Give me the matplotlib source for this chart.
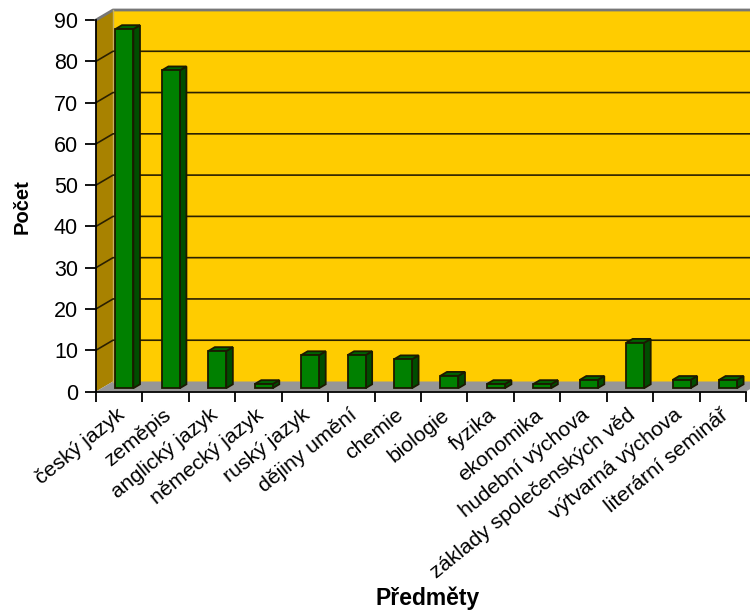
import numpy as np
import matplotlib
matplotlib.use("Agg")
import matplotlib.pyplot as plt
from matplotlib.patches import Polygon
from matplotlib.transforms import ScaledTranslation

plt.rcParams['font.family'] = ['Liberation Sans', 'DejaVu Sans']

subjects = ['český jazyk', 'zeměpis', 'anglický jazyk', 'německý jazyk', 'ruský jazyk',
            'dějiny umění', 'chemie', 'biologie', 'fyzika', 'ekonomika',
            'hudební výchova', 'základy společenských věd', 'výtvarná výchova', 'literární seminář']
counts = [87, 77, 9, 1, 8, 8, 7, 3, 1, 1, 2, 11, 2, 2]
yticks = [0, 10, 20, 30, 40, 50, 60, 70, 80, 90]

W, H = 750, 611
left, right, top, bottom = 96, 746, 20, 391.5

fig = plt.figure(figsize=(W / 100, H / 100), dpi=100)
ax = fig.add_axes([left / W, 1 - bottom / H, (right - left) / W, (bottom - top) / H])
ax.set_xlim(0, len(subjects))
ax.set_ylim(0, 90)

# depth offset of the fake 3d box, pixels converted to data units
ux = (right - left) / len(subjects)
uy = (bottom - top) / 90
dx = 17 / ux
dy = 10 / uy


def pt(x, v, d=0.0):
    return (x + d * dx, v + d * dy)


def poly(points, color, edge='#1a1a00', lw=1.3, z=1):
    ax.add_patch(Polygon(points, closed=True, facecolor=color, edgecolor=edge,
                         linewidth=lw, clip_on=False, zorder=z))


n = len(subjects)
# back wall, side wall, floor
poly([pt(0, 0, 1), pt(n, 0, 1), pt(n, 90, 1), pt(0, 90, 1)], '#FFCC00', edge='none')
poly([pt(0, 0), pt(0, 0, 1), pt(0, 90, 1), pt(0, 90)], '#A88200', edge='none')
poly([pt(0, 0), pt(n, 0), pt(n, 0, 1), pt(0, 0, 1)], '#969696', edge='none')
ax.plot(*zip(pt(0, 90), pt(0, 90, 1), pt(n, 90, 1)), color='#777777', lw=2, clip_on=False, zorder=2)
ax.plot(*zip(pt(0, 0, 1), pt(0, 90, 1)), color='#C8B060', lw=1, clip_on=False, zorder=2)

# grid lines run along the side wall and the back wall
for v in yticks[1:-1]:
    ax.plot(*zip(pt(0, v), pt(0, v, 1), pt(n, v, 1)), color='#2a2000', lw=1.2,
            clip_on=False, zorder=2)

# bars
bw = 18 / ux
d0 = 0.33
d1 = 0.72
for i, v in enumerate(counts):
    x0 = i + 0.5 - bw / 2 - 0.01
    x1 = x0 + bw
    poly([pt(x1, 0, d0), pt(x1, 0, d1), pt(x1, v, d1), pt(x1, v, d0)], '#004D00', z=3)
    poly([pt(x0, v, d0), pt(x1, v, d0), pt(x1, v, d1), pt(x0, v, d1)], '#006400', z=3)
    poly([pt(x0, 0, d0), pt(x1, 0, d0), pt(x1, v, d0), pt(x0, v, d0)], '#008000', z=4)

for s in ['top', 'right']:
    ax.spines[s].set_visible(False)
for s in ['left', 'bottom']:
    ax.spines[s].set_linewidth(1.3)
    ax.spines[s].set_zorder(6)

ax.set_yticks(yticks)
ax.tick_params(axis='y', length=8, width=1.3, labelsize=15.5, pad=5)
ax.set_xticks(np.arange(n + 1))
ax.set_xticklabels([])
ax.tick_params(axis='x', which='major', length=7, width=1.3)
ax.set_xticks(np.arange(n) + 0.5, minor=True)
labels = ax.set_xticklabels(subjects, minor=True, rotation=39, ha='right', rotation_mode='anchor',
                            fontsize=15.3)
ax.tick_params(axis='x', which='minor', length=0, pad=10)
# rotated labels sit a little left of the tick centre
shift = ScaledTranslation(-3 / 100, 0, fig.dpi_scale_trans)
for lab in labels:
    lab.set_transform(lab.get_transform() + shift)

fig.text(22 / W, 1 - 207 / H, 'Počet', rotation=90, fontsize=14.5, fontweight='bold',
         ha='center', va='center')
fig.text(428 / W, 1 - 598 / H, 'Předměty', fontsize=16.5, fontweight='bold',
         ha='center', va='center')

fig.savefig('out.png', dpi=100)
